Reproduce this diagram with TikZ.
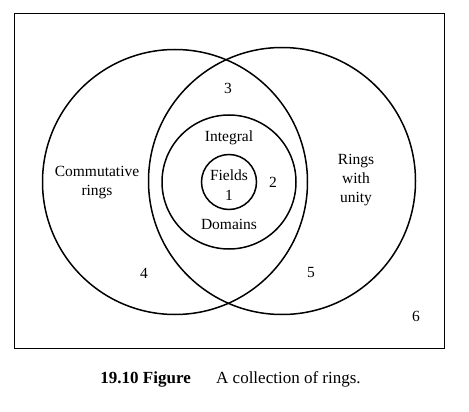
\documentclass[tikz,border=0pt]{standalone}
\usepackage{fontspec}
\setmainfont{Liberation Serif}
\begin{document}
\begin{tikzpicture}[x=1pt,y=-1pt,
  ring/.style={draw,circle,line width=1.5pt,inner sep=0pt},
  lbl/.style={font=\fontsize{15.5}{19}\selectfont,align=center,inner sep=0pt},
  captext/.style={font=\fontsize{17}{18}\selectfont,inner sep=0pt}]
\useasboundingbox (0,0) rectangle (469,412);
\node[draw,line width=1pt,minimum width=430,minimum height=334,inner sep=0pt] (frame) at (229,181) {};
\node[ring,minimum size=265] (comm) at (175,182) {};
\node[ring,minimum size=267] (unity) at (282,181) {};
\node[ring,minimum size=134] (integ) at (229,182) {};
\node[ring,minimum size=55] (fields) at (229,182) {};
\node[lbl] (tcomm) at (97,183) {Commutative\\rings};
\node[lbl] (tunity) at (356,180) {Rings\\with\\unity};
\node[lbl] (tint) at (229,138) {Integral};
\node[lbl] (tdom) at (229,224) {Domains};
\node[lbl] (tfields) at (229,175) {Fields};
\node[lbl] (n1) at (229,195) {1};
\node[lbl] (n2) at (273,182) {2};
\node[lbl] (n3) at (228,88) {3};
\node[lbl] (n4) at (144,273) {4};
\node[lbl] (n5) at (311,272) {5};
\node[lbl] (n6) at (416,316) {6};
\node[captext,anchor=east] (capa) at (191,379) {\bfseries 19.10 Figure};
\node[captext,anchor=west] (capb) at (216,379) {A collection of rings.};
\end{tikzpicture}
\end{document}
